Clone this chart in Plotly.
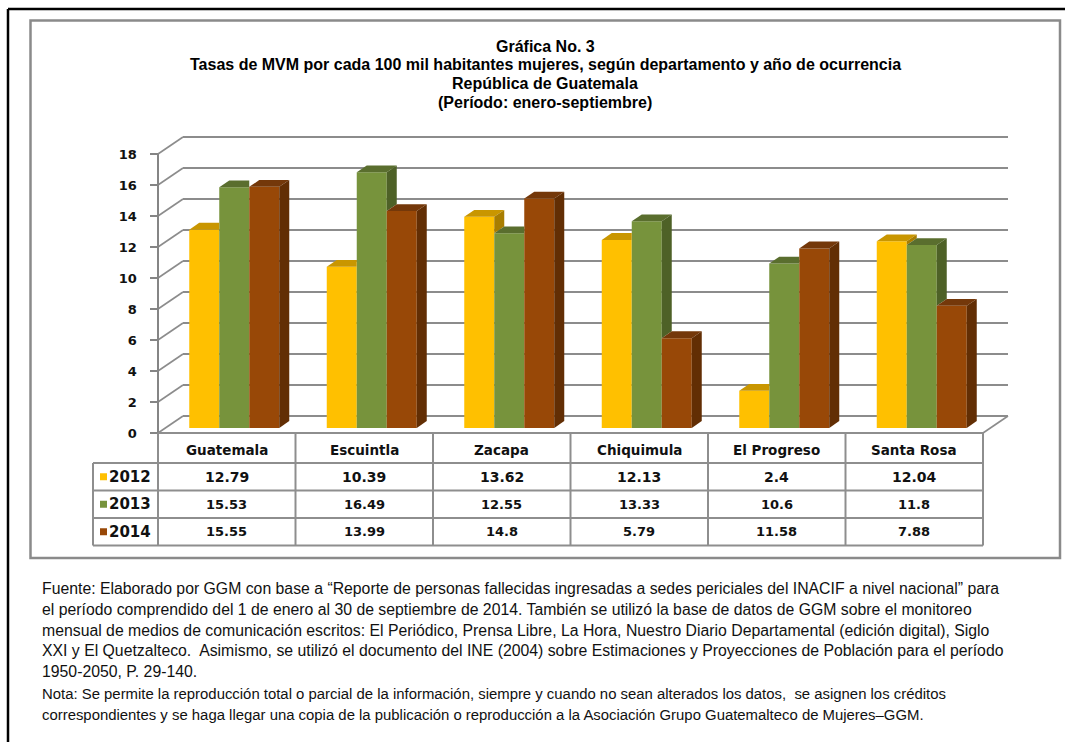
import plotly.graph_objects as go

# ---- data -------------------------------------------------------------
departamentos = ["Guatemala", "Escuintla", "Zacapa", "Chiquimula", "El Progreso", "Santa Rosa"]
anios = ["2012", "2013", "2014"]
tasas_2012 = [12.79, 10.39, 13.62, 12.13, 2.4, 12.04]
tasas_2013 = [15.53, 16.49, 12.55, 13.33, 10.6, 11.8]
tasas_2014 = [15.55, 13.99, 14.8, 5.79, 11.58, 7.88]
ticks_y = [0, 2, 4, 6, 8, 10, 12, 14, 16, 18]

series = [tasas_2012, tasas_2013, tasas_2014]
color_front = ["#FFC000", "#77933C", "#984807"]
color_top = ["#C99600", "#5A6E2E", "#74380A"]
color_side = ["#A87D00", "#4E6127", "#622E04"]

# ---- page geometry (pixels) -------------------------------------------
W, H = 1065, 742
PX_CAT = 137.5          # width of one category column
PX_UNIT = 15.5          # pixels per value unit
X0 = 226.75             # centre of first category column
Y0 = 433.0              # front floor line (value 0)


def px_x(p):
    return (p - X0) / PX_CAT


def px_y(p):
    return (Y0 - p) / PX_UNIT


def fx(p):
    return p / W


def fy(p):
    return 1 - p / H


# depth of the 3-D box in data units
DX = 25 / PX_CAT
DY = 17 / PX_UNIT
BAR_POS = 0.3            # depth of bar front faces
BAR_DEPTH = 0.4          # bar depth as share of box depth
BAR_W = 30 / PX_CAT
base = BAR_POS * DY
shift_x = BAR_POS * DX
dxb = BAR_DEPTH * DX
dyb = BAR_DEPTH * DY

GRID = "#8C8C8C"
fig = go.Figure()
shapes = []
annotations = []

# ---- back wall, side wall and floor -----------------------------------
left, right = -0.5, len(departamentos) - 0.5
for v in ticks_y:
    shapes.append(dict(type="line", xref="x", yref="y", x0=left, y0=v, x1=left + DX, y1=v + DY,
                       line=dict(color=GRID, width=1.6), layer="below"))
    shapes.append(dict(type="line", xref="x", yref="y", x0=left + DX, y0=v + DY, x1=right + DX, y1=v + DY,
                       line=dict(color=GRID, width=1.8), layer="below"))
shapes.append(dict(type="line", xref="x", yref="y", x0=right, y0=0, x1=right + DX, y1=DY,
                   line=dict(color=GRID, width=1.6), layer="below"))
# front value axis
shapes.append(dict(type="line", xref="x", yref="y", x0=left, y0=0, x1=left, y1=ticks_y[-1],
                   line=dict(color="#858585", width=2)))

# ---- bars: front faces --------------------------------------------------
offsets = [-BAR_W, 0.0, BAR_W]
for k, vals in enumerate(series):
    xs = [i + shift_x + offsets[k] for i in range(len(departamentos))]
    fig.add_trace(go.Bar(x=xs, y=vals, base=[base] * len(vals), width=BAR_W,
                         marker=dict(color=color_front[k], line=dict(width=0)),
                         name=anios[k], showlegend=False))

# ---- bars: top and side faces -----------------------------------------
for i in range(len(departamentos)):
    for k, vals in enumerate(series):
        v = vals[i]
        xl = i + shift_x + offsets[k] - BAR_W / 2
        xr = xl + BAR_W
        yt = base + v
        nxt = series[k + 1][i] if k + 1 < len(series) else None
        # top face
        if nxt is not None and nxt > v:
            path = f"M{xl},{yt} L{xr},{yt} L{xr},{yt + dyb} L{xl + dxb},{yt + dyb} Z"
        else:
            path = f"M{xl},{yt} L{xr},{yt} L{xr + dxb},{yt + dyb} L{xl + dxb},{yt + dyb} Z"
        shapes.append(dict(type="path", xref="x", yref="y", path=path,
                           fillcolor=color_top[k], line=dict(width=0)))
        # right side face (only the part not hidden by the neighbouring bar)
        low = 0.0 if nxt is None else nxt
        if v > low:
            y_lo = base + low
            path = f"M{xr},{y_lo} L{xr},{yt} L{xr + dxb},{yt + dyb} L{xr + dxb},{y_lo + dyb} Z"
            shapes.append(dict(type="path", xref="x", yref="y", path=path,
                               fillcolor=color_side[k], line=dict(width=0)))

# ---- data table ----------------------------------------------------------
TB = "#8E8E8E"
row_lines = [433, 463, 490.5, 518, 545.5]
tab_left = px_x(93)
for j, p in enumerate(row_lines):
    x_start = left if j == 0 else tab_left
    shapes.append(dict(type="line", xref="x", yref="y", x0=x_start, y0=px_y(p), x1=right, y1=px_y(p),
                       line=dict(color=TB, width=2)))
for c in range(len(departamentos) + 1):
    shapes.append(dict(type="line", xref="x", yref="y", x0=left + c, y0=px_y(433), x1=left + c,
                       y1=px_y(545.5), line=dict(color=TB, width=2)))
shapes.append(dict(type="line", xref="x", yref="y", x0=tab_left, y0=px_y(463), x1=tab_left,
                   y1=px_y(545.5), line=dict(color=TB, width=2)))

TFONT = "DejaVu Sans"
for i, name in enumerate(departamentos):
    annotations.append(dict(x=i, y=px_y(450), xref="x", yref="y", text=f"<b>{name}</b>",
                            showarrow=False, font=dict(family=TFONT, size=13.5, color="#111")))
for k, vals in enumerate(series):
    yc = px_y((row_lines[k + 1] + row_lines[k + 2]) / 2)
    for i, v in enumerate(vals):
        annotations.append(dict(x=i, y=yc, xref="x", yref="y", text=f"<b>{v:g}</b>",
                                showarrow=False, font=dict(family=TFONT, size=14 if k == 0 else 13,
                                                           color="#111")))
    # legend key and year label
    shapes.append(dict(type="rect", xref="x", yref="y", x0=px_x(100), x1=px_x(107),
                       y0=yc - 3.5 / PX_UNIT, y1=yc + 3.5 / PX_UNIT,
                       fillcolor=color_front[k], line=dict(width=0)))
    annotations.append(dict(x=px_x(107), y=yc, xref="x", yref="y", text=f"<b>{anios[k]}</b>",
                            showarrow=False, xanchor="left", font=dict(family=TFONT, size=15, color="#111")))

# ---- frames -----------------------------------------------------------------
shapes.append(dict(type="rect", xref="paper", yref="paper", x0=fx(30.5), x1=fx(1060), y0=fy(20.5),
                   y1=fy(558), line=dict(color="#8A8A8A", width=2.5), layer="below"))
shapes.append(dict(type="line", xref="paper", yref="paper", x0=fx(8), x1=fx(8), y0=fy(9), y1=0,
                   line=dict(color="#000", width=2.5)))
shapes.append(dict(type="line", xref="paper", yref="paper", x0=fx(8), x1=1, y0=fy(9), y1=fy(9),
                   line=dict(color="#000", width=2.5)))

# ---- titles ----------------------------------------------------------------
title_lines = [
    "Gráfica No. 3",
    "Tasas de MVM por cada 100 mil habitantes mujeres, según departamento y año de ocurrencia",
    "República de Guatemala",
    "(Período: enero-septiembre)",
]
for j, t in enumerate(title_lines):
    annotations.append(dict(x=fx(545), y=fy(35.5 + j * 18.7), xref="paper", yref="paper",
                            text=f"<b>{t}</b>", showarrow=False,
                            font=dict(family="Liberation Sans", size=16, color="#000")))

# ---- notes ---------------------------------------------------------------------
fuente = [
    "Fuente: Elaborado por GGM con base a “Reporte de personas fallecidas ingresadas a sedes periciales del INACIF a nivel nacional” para",
    "el período comprendido del 1 de enero al 30 de septiembre de 2014. También se utilizó la base de datos de GGM sobre el monitoreo",
    "mensual de medios de comunicación escritos: El Periódico, Prensa Libre, La Hora, Nuestro Diario Departamental (edición digital), Siglo",
    "XXI y El Quetzalteco.  Asimismo, se utilizó el documento del INE (2004) sobre Estimaciones y Proyecciones de Población para el período",
    "1950-2050, P. 29-140.",
]
nota = [
    "Nota: Se permite la reproducción total o parcial de la información, siempre y cuando no sean alterados los datos,  se asignen los créditos",
    "correspondientes y se haga llegar una copia de la publicación o reproducción a la Asociación Grupo Guatemalteco de Mujeres–GGM.",
]
for j, t in enumerate(fuente):
    annotations.append(dict(x=fx(40), y=fy(599 + j * 20.8), xref="paper", yref="paper", text=t,
                            showarrow=False, xanchor="left",
                            font=dict(family="Liberation Sans", size=15.8, color="#111")))
for j, t in enumerate(nota):
    annotations.append(dict(x=fx(40), y=fy(704 + j * 21), xref="paper", yref="paper", text=t,
                            showarrow=False, xanchor="left",
                            font=dict(family="Liberation Sans", size=14.9, color="#111")))

fig.update_layout(
    width=W, height=H, autosize=False,
    margin=dict(l=0, r=0, t=0, b=0),
    paper_bgcolor="white", plot_bgcolor="white",
    barmode="overlay",
    shapes=shapes, annotations=annotations,
    xaxis=dict(range=[px_x(0), px_x(W)], visible=False, fixedrange=True),
    yaxis=dict(range=[px_y(H), px_y(0)], anchor="free", position=fx(157.5),
               tickvals=ticks_y, ticks="outside", ticklen=8, tickwidth=2, tickcolor="#858585",
               showgrid=False, zeroline=False, showline=False, ticklabelstandoff=10,
               tickfont=dict(family=TFONT, size=13, color="#111", weight="bold"),
               fixedrange=True),
)

fig.write_html("out.html")
